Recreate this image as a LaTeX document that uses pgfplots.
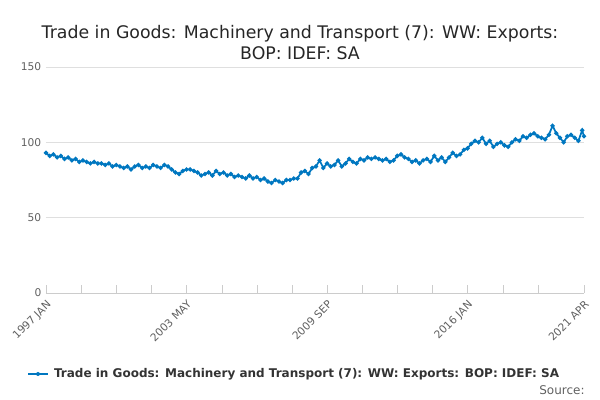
\documentclass[border=0pt]{standalone}
\usepackage{pgfplots}
\pgfplotsset{compat=1.18}
\usepackage{fontspec}
\setmainfont{DejaVu Sans}
\definecolor{ln}{HTML}{0077C0}
\definecolor{tk}{HTML}{606060}
\begin{document}
\begin{tikzpicture}
\useasboundingbox (0,0) rectangle (450pt,300pt);
\begin{axis}[at={(34.5pt,80.25pt)},anchor=south west,scale only axis,width=403.5pt,height=169.5pt,
xmin=0,xmax=291,ymin=0,ymax=150,
ytick={0,50,100,150},ymajorgrids,grid style={draw=gray!25},
xtick={0,76,152,228,291},xticklabels={1997 JAN,2003 MAY,2009 SEP,2016 JAN,2021 APR},
minor xtick={19,38,57,95,114,133,171,190,209,247,266},
x tick label style={rotate=45,anchor=north east,font=\fontsize{8}{9}\selectfont,text=tk},
y tick label style={font=\fontsize{8}{9}\selectfont,text=tk},
/pgf/number format/assume math mode=true,
axis x line*=bottom, axis y line*=left,
y axis line style={draw=none},
x axis line style={draw=gray!40,-},
xtick style={draw=gray!40},ytick style={draw=none},
major tick length=6pt,minor tick length=6pt,
clip=false]
\addplot[ln,line width=1.3pt,mark=*,mark size=0.9pt] coordinates {
(0,93)(2,91)(4,92)(6,90)(8,91)(10,89)(12,90)(14,88)(16,89)(18,87)(20,88)(22,87)(24,86)(26,87)(28,86)(30,86)(32,85)(34,86)(36,84)(38,85)(40,84)(42,83)(44,84)(46,82)(48,84)(50,85)(52,83)(54,84)(56,83)(58,85)(60,84)(62,83)(64,85)(66,84)(68,82)(70,80)(72,79)(74,81)(76,82)(78,82)(80,81)(82,80)(84,78)(86,79)(88,80)(90,78)(92,81)(94,79)(96,80)(98,78)(100,79)(102,77)(104,78)(106,77)(108,76)(110,78)(112,76)(114,77)(116,75)(118,76)(120,74)(122,73)(124,75)(126,74)(128,73)(130,75)(132,75)(134,76)(136,76)(138,80)(140,81)(142,79)(144,83)(146,84)(148,88)(150,83)(152,86)(154,84)(156,85)(158,88)(160,84)(162,86)(164,89)(166,87)(168,86)(170,89)(172,88)(174,90)(176,89)(178,90)(180,89)(182,88)(184,89)(186,87)(188,88)(190,91)(192,92)(194,90)(196,89)(198,87)(200,88)(202,86)(204,88)(206,89)(208,87)(210,91)(212,88)(214,90)(216,87)(218,90)(220,93)(222,91)(224,92)(226,95)(228,96)(230,99)(232,101)(234,100)(236,103)(238,99)(240,101)(242,97)(244,99)(246,100)(248,98)(250,97)(252,100)(254,102)(256,101)(258,104)(260,103)(262,105)(264,106)(266,104)(268,103)(270,102)(272,105)(274,111)(276,106)(278,103)(280,100)(282,104)(284,105)(286,103)(288,101)(290,108)(291,104)
};
\end{axis}
\node[font=\fontsize{13}{16}\selectfont,text=black!85,align=center] at (225pt,268pt) {Trade in Goods: Machinery and Transport (7): WW: Exports:\\BOP: IDEF: SA};
\draw[ln,line width=1.3pt] (21pt,19.5pt)--(36pt,19.5pt);
\fill[ln] (28.5pt,19.5pt) circle (1.5pt);
\node[anchor=west,font=\bfseries\fontsize{9}{11}\selectfont,text=black!80] at (37pt,19.5pt) {Trade in Goods: Machinery and Transport (7): WW: Exports: BOP: IDEF: SA};
\node[anchor=east,font=\fontsize{9}{11}\selectfont,text=tk] at (442pt,7.5pt) {Source:};
\end{tikzpicture}
\end{document}
